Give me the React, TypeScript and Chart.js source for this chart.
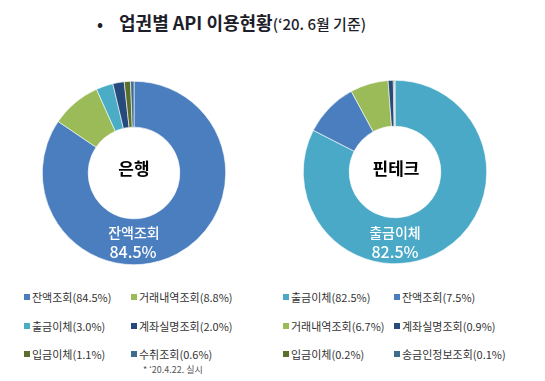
import React, { useEffect, useRef } from "react";
import { Chart, registerables } from "chart.js";

Chart.register(...registerables);

const bankLabels = ["잔액조회", "거래내역조회", "출금이체", "계좌실명조회", "입금이체", "수취조회"];
const bankValues = [84.5, 8.8, 3.0, 2.0, 1.1, 0.6];
const bankColors = ["#4A7EBF", "#9BBB59", "#4BACC6", "#264A7C", "#5B6E2C", "#3A6E8C"];

const fintechLabels = ["출금이체", "잔액조회", "거래내역조회", "계좌실명조회", "입금이체", "송금인정보조회"];
const fintechValues = [82.5, 7.5, 6.7, 0.9, 0.2, 0.1];
// slice sizes as drawn in the picture's ring (the ring fills the full circle)
const fintechSliceValues = [82.5, 9.6, 6.7, 0.9, 0.2, 0.1];
const fintechColors = ["#4BA9C8", "#4A7EBF", "#9BBB59", "#264A7C", "#5B6E2C", "#3A6E8C"];

const titleMain = "업권별 API 이용현황";
const titleSub = "(‘20. 6월 기준)";
const footnote = "* ‘20.4.22. 실시";

const FONT = "'Noto Sans CJK KR', 'Noto Sans', sans-serif";

function Donut(props: { labels: string[]; values: number[]; colors: string[]; left: number; top: number; size: number }) {
  const ref = useRef<HTMLCanvasElement | null>(null);
  useEffect(() => {
    if (!ref.current) return;
    const chart = new Chart(ref.current, {
      type: "doughnut",
      data: {
        labels: props.labels,
        datasets: [
          {
            data: props.values,
            backgroundColor: props.colors,
            borderColor: "#ffffff",
            borderWidth: 0.6,
          },
        ],
      },
      options: {
        animation: false,
        responsive: false,
        cutout: "50%",
        layout: { padding: 0 },
        plugins: { legend: { display: false }, tooltip: { enabled: false } },
      },
    });
    return () => chart.destroy();
  }, []);
  return (
    <canvas
      ref={ref}
      width={props.size}
      height={props.size}
      style={{ position: "absolute", left: props.left, top: props.top, width: props.size, height: props.size }}
    />
  );
}

function Legend(props: { labels: string[]; values: number[]; colors: string[]; cols: number[] }) {
  const rows = [297, 326, 354];
  return (
    <>
      {props.labels.map((l, i) => {
        const x = props.cols[i % 2];
        const y = rows[Math.floor(i / 2)];
        return (
          <div
            key={l + i}
            style={{
              position: "absolute",
              left: x,
              top: y - 8,
              height: 16,
              display: "flex",
              alignItems: "center",
              fontFamily: FONT,
              fontSize: 11,
              color: "#333333",
              whiteSpace: "nowrap",
            }}
          >
            <span style={{ display: "inline-block", width: 6, height: 6, background: props.colors[i], marginRight: 2 }} />
            {l}({props.values[i].toFixed(1)}%)
          </div>
        );
      })}
    </>
  );
}

function CenterText(props: { x: number; y: number; text: string; size: number; color: string; weight: number }) {
  return (
    <div
      style={{
        position: "absolute",
        left: props.x,
        top: props.y,
        transform: "translate(-50%, -50%)",
        fontFamily: FONT,
        fontSize: props.size,
        fontWeight: props.weight,
        color: props.color,
        whiteSpace: "nowrap",
        lineHeight: 1,
      }}
    >
      {props.text}
    </div>
  );
}

export default function App() {
  return (
    <div style={{ position: "absolute", left: 0, top: 0, width: 545, height: 381, background: "#fff", overflow: "hidden" }}>
      <div style={{ position: "absolute", left: 97, top: 10, fontFamily: FONT, color: "#1e1e2a", whiteSpace: "nowrap", lineHeight: "24px" }}>
        <span style={{ fontSize: 16, fontWeight: 700, marginRight: 16 }}>•</span>
        <span style={{ fontSize: 18, fontWeight: 700 }}>{titleMain}</span>
        <span style={{ fontSize: 15, fontWeight: 500 }}>{titleSub}</span>
      </div>

      <Donut labels={bankLabels} values={bankValues} colors={bankColors} left={42} top={81} size={184} />
      <Donut labels={fintechLabels} values={fintechSliceValues} colors={fintechColors} left={303} top={80} size={184} />

      <CenterText x={134} y={167} text="은행" size={17} color="#000" weight={700} />
      <CenterText x={396} y={167} text="핀테크" size={17} color="#000" weight={700} />

      <CenterText x={134} y={232} text={bankLabels[0]} size={14} color="#fff" weight={500} />
      <CenterText x={133} y={251} text={bankValues[0].toFixed(1) + "%"} size={16} color="#fff" weight={500} />
      <CenterText x={395} y={232} text={fintechLabels[0]} size={14} color="#fff" weight={500} />
      <CenterText x={395} y={251} text={fintechValues[0].toFixed(1) + "%"} size={16} color="#fff" weight={500} />

      <Legend labels={bankLabels} values={bankValues} colors={bankColors} cols={[24, 131]} />
      <Legend labels={fintechLabels} values={fintechValues} colors={fintechColors} cols={[283, 394]} />

      <div style={{ position: "absolute", left: 143, top: 364, fontFamily: FONT, fontSize: 9, color: "#555", whiteSpace: "nowrap", lineHeight: "12px" }}>
        {footnote}
      </div>
    </div>
  );
}
